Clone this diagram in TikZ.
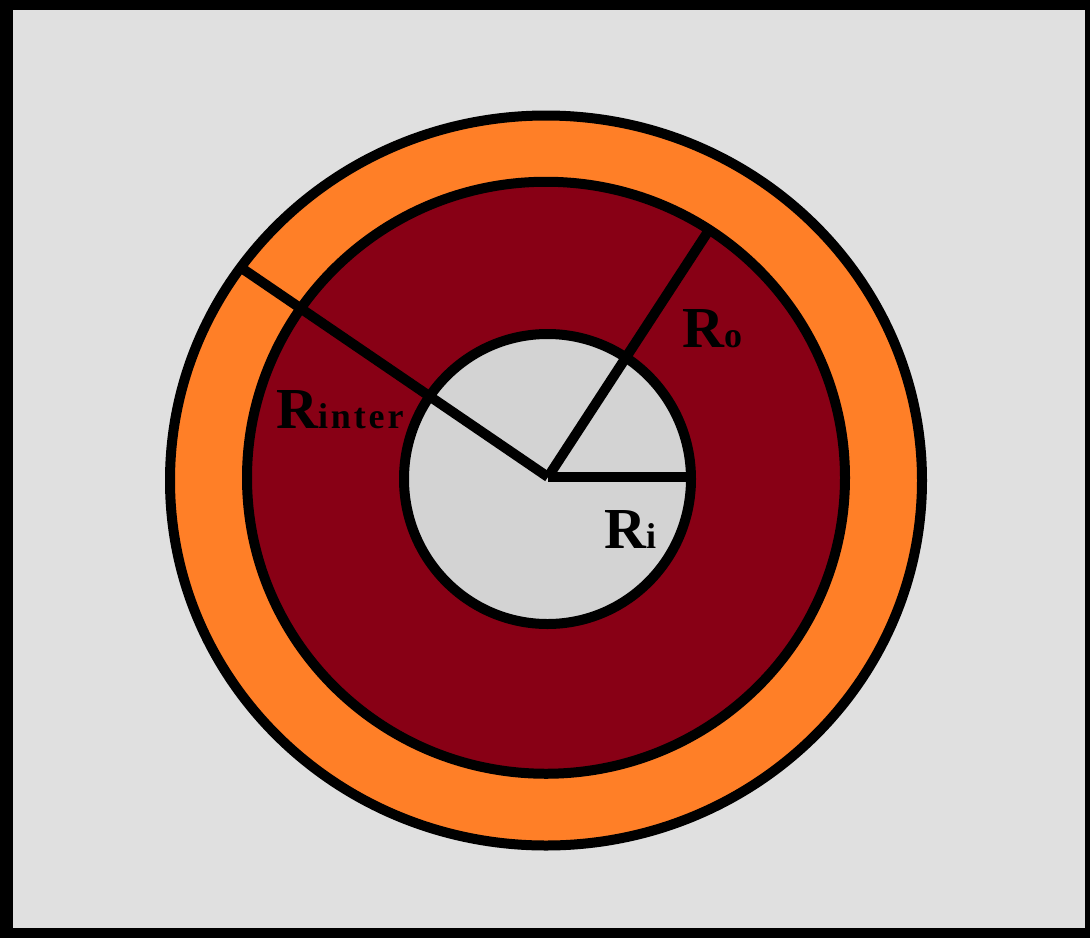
\documentclass[tikz,border=0pt]{standalone}
\usepackage{fontspec}
\setmainfont{Liberation Serif}
\definecolor{bggray}{RGB}{224,224,224}
\definecolor{ingray}{RGB}{211,211,211}
\definecolor{ringorange}{RGB}{255,127,39}
\definecolor{ringred}{RGB}{136,0,21}
\begin{document}
\begin{tikzpicture}[x=1pt,y=-1pt,
  ring/.style={draw=black,line width=10pt},
  radial/.style={draw=black,line width=10pt,line cap=butt},
  lbl/.style={anchor=base west,inner sep=0pt,font=\bfseries}]
\useasboundingbox (0,0) rectangle (1090,938);
\fill[black] (0,0) rectangle (1090,938);
\fill[bggray] (13,10) rectangle (1085,928);
% rings
\path[ring,fill=ringorange] (546,480.5) ellipse [x radius=376pt, y radius=365pt];
\path[ring,fill=ringred] (546,477.75) ellipse [x radius=299pt, y radius=296pt];
\path[ring,fill=ingray] (547.5,479) ellipse [x radius=143.5pt, y radius=145pt];
% radii
\coordinate (cen) at (548,477);
\coordinate (pinter) at (240,267);
\coordinate (po) at (709,230);
\coordinate (pi) at (691,477);
\draw[radial] (cen) -- (pinter);
\draw[radial] (cen) -- (po);
\draw[radial] (cen) -- (pi);
% labels
\node[lbl] (linter) at (276,428) {\fontsize{58}{60}\selectfont R\fontsize{36}{40}\selectfont\addfontfeature{LetterSpace=8}inter};
\node[lbl] (li) at (604,548) {\fontsize{58}{60}\selectfont R\fontsize{36}{40}\selectfont i};
\node[lbl] (lo) at (682,347) {\fontsize{58}{60}\selectfont R\fontsize{36}{40}\selectfont o};
\end{tikzpicture}
\end{document}
